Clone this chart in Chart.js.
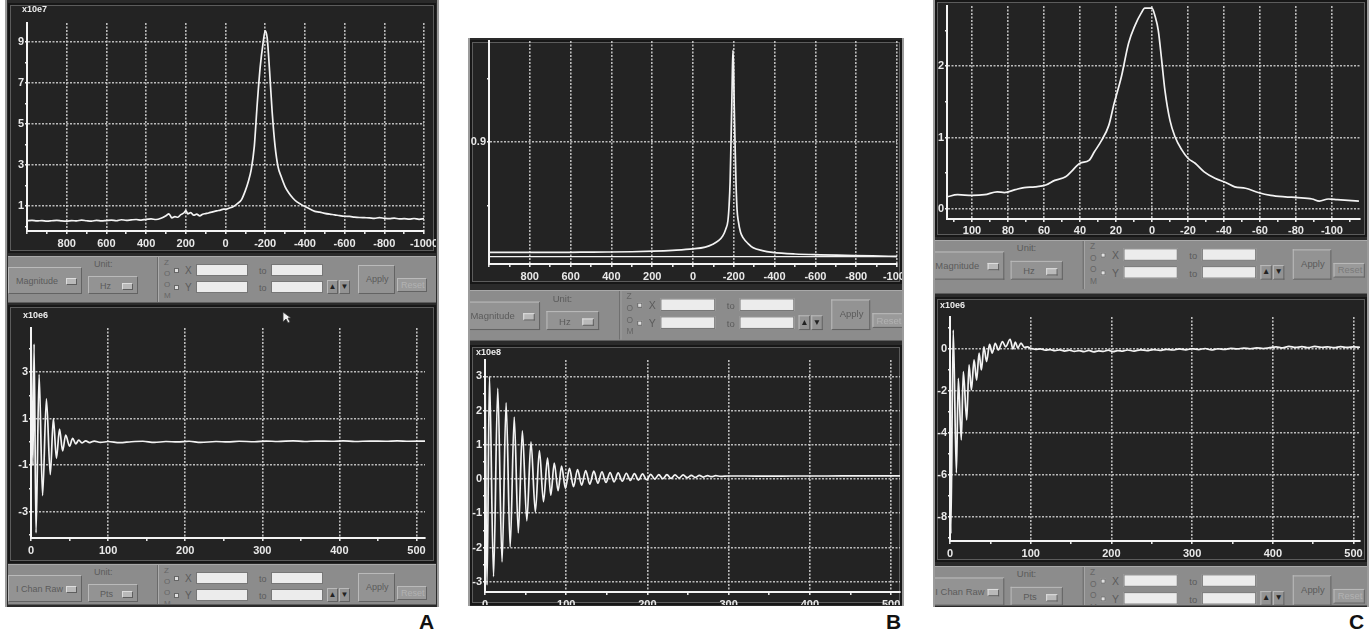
<!DOCTYPE html>
<html>
<head>
<meta charset="utf-8">
<script src="https://cdn.jsdelivr.net/npm/chart.js@4.4.1/dist/chart.umd.min.js"></script>
<style>
  body { margin: 0; width: 1371px; height: 634px; background: #fff; position: relative; overflow: hidden; font-family: 'Liberation Sans', Arial, sans-serif; }
  .panel { position: absolute; background: #2a2a2a; border-left: 2px solid #9c9c9c; border-right: 2px solid #9c9c9c; box-sizing: border-box; }
  .plot { position: absolute; background: #232323; box-shadow: inset 0 0 0 2px #171717, inset 0 0 0 3px #5c5c5c; }
  .plot canvas { position: absolute; left: 0; top: 0; }
  .bar { position: absolute; background: #8c8c8c; overflow: hidden; box-sizing: border-box; border-top: 1px solid #a9a9a9; border-bottom: 1px solid #5d5d5d; }
  .bar .in { position: absolute; top: 0; width: 428px; height: 46px; transform-origin: 0 0; }
  .btn { position: absolute; background: #939393; border: 1px solid; border-color: #bababa #636363 #636363 #bababa; color: #575757; font-size: 9px; box-sizing: border-box; }
  .drop { position: absolute; width: 9px; height: 5px; background: #b9b9b9; border: 1px solid #5e5e5e; border-top-color: #ddd; border-left-color: #ddd; }
  .inp { position: absolute; width: 52px; height: 12px; background: #ececec; border: 1px solid #777; box-sizing: border-box; }
  .txt { position: absolute; color: #5b5b5b; font-size: 9px; line-height: 10px; }
  .rad { position: absolute; width: 3px; height: 3px; background: #e0e0e0; border: 1px solid #666; }
  .unit { position: absolute; color: #ededed; font: bold 9px 'Liberation Sans Narrow', 'Liberation Sans', sans-serif; }
  .tag { position: absolute; font: bold 21px 'Liberation Sans', Arial, sans-serif; color: #111; line-height: 21px; }
</style>
</head>
<body>
<div class="panel" style="left:5px;top:0;width:434px;height:607px"></div>
<div class="panel" style="left:468px;top:38px;width:436px;height:568px"></div>
<div class="panel" style="left:933px;top:0;width:436px;height:607px"></div>

<div class="plot" id="boxAtop" style="left:8px;top:3px;width:428px;height:250px"></div>
<div class="plot" id="boxAfid" style="left:8px;top:305px;width:428px;height:258px"></div>
<div class="plot" id="boxBtop" style="left:470px;top:40px;width:432px;height:244px"></div>
<div class="plot" id="boxBfid" style="left:470px;top:345px;width:432px;height:260px"></div>
<div class="plot" id="boxCtop" style="left:935px;top:0;width:432px;height:237px"></div>
<div class="plot" id="boxCfid" style="left:935px;top:297px;width:432px;height:265px"></div>

<div class="unit" style="left:22px;top:4px">x10e7</div>
<div class="unit" style="left:23px;top:310px">x10e6</div>
<div class="unit" style="left:476px;top:347px">x10e8</div>
<div class="unit" style="left:940px;top:300px">x10e6</div>

<svg style="position:absolute;left:282px;top:311px" width="10" height="13"><polygon points="1,1 1,11 4,8 6,12 8,11 6,7 9,7" fill="#f2f2f2" stroke="#333" stroke-width="0.8"/></svg>

<div class="tag" style="left:419px;top:611px">A</div>
<div class="tag" style="left:886px;top:611px">B</div>
<div class="tag" style="left:1349px;top:611px">C</div>

<script>
// spectra: [frequency in Hz, magnitude]
const specA = [
  [1000, 0.28], [975, 0.3], [950, 0.27], [925, 0.29], [900, 0.26], [875, 0.28], [850, 0.3], [825, 0.27],
  [800, 0.26], [775, 0.29], [750, 0.27], [725, 0.31], [700, 0.28], [675, 0.26], [650, 0.3], [625, 0.27],
  [600, 0.29], [575, 0.31], [550, 0.28], [525, 0.33], [500, 0.3], [475, 0.32], [450, 0.34], [425, 0.31],
  [400, 0.35], [375, 0.37], [350, 0.34], [325, 0.4], [300, 0.52], [285, 0.62], [270, 0.42], [255, 0.48],
  [240, 0.45], [225, 0.58], [210, 0.66], [200, 0.78], [190, 0.62], [175, 0.68], [160, 0.55], [145, 0.6],
  [130, 0.52], [115, 0.6], [100, 0.63], [85, 0.66], [70, 0.7], [55, 0.74], [40, 0.77], [25, 0.8],
  [10, 0.85], [0, 0.84], [-20, 0.9], [-40, 0.98], [-60, 1.12], [-80, 1.3], [-100, 1.75], [-115, 2.2],
  [-130, 2.8], [-145, 3.9], [-160, 6.0], [-175, 7.8], [-190, 9.0], [-200, 9.55], [-210, 9.2], [-222, 7.6],
  [-235, 5.6], [-250, 3.9], [-265, 2.9], [-280, 2.45], [-300, 1.95], [-320, 1.62], [-340, 1.38], [-360, 1.2],
  [-380, 1.08], [-400, 0.97], [-425, 0.85], [-450, 0.74], [-475, 0.7], [-500, 0.64], [-525, 0.6], [-550, 0.57],
  [-575, 0.53], [-600, 0.5], [-625, 0.49], [-650, 0.46], [-675, 0.44], [-700, 0.43], [-725, 0.42], [-750, 0.4],
  [-775, 0.43], [-800, 0.4], [-825, 0.38], [-850, 0.41], [-875, 0.37], [-900, 0.38], [-925, 0.36], [-950, 0.39],
  [-975, 0.35], [-1000, 0.38]
];
const specB = [
  [1000, 0.118], [850, 0.118], [700, 0.117], [550, 0.119], [420, 0.12], [300, 0.122], [195, 0.126], [100, 0.132],
  [0, 0.142], [-60, 0.155], [-97, 0.175], [-125, 0.2], [-146, 0.234], [-160, 0.28], [-171, 0.34], [-177, 0.45],
  [-182, 0.62], [-186, 0.88], [-190, 1.15], [-193, 1.4], [-196, 1.55], [-199, 1.42], [-202, 1.16], [-206, 0.9],
  [-211, 0.6], [-216, 0.42], [-222, 0.34], [-233, 0.26], [-246, 0.22], [-270, 0.18], [-295, 0.15], [-340, 0.13],
  [-390, 0.118], [-500, 0.106], [-620, 0.1], [-750, 0.096], [-880, 0.092], [-1000, 0.089]
];
const specBFloor = [[1000, 0.087], [-1000, 0.087]];
const specC = [
  [114, 0.17], [108, 0.2], [100, 0.19], [93, 0.2], [86, 0.24], [82, 0.23], [76, 0.27], [71, 0.3],
  [65, 0.31], [59, 0.335], [54, 0.4], [48, 0.45], [45, 0.52], [40, 0.64], [35, 0.68], [32, 0.8],
  [28, 0.96], [24, 1.17], [21, 1.48], [17, 1.85], [13, 2.32], [9.4, 2.57], [6, 2.74], [4, 2.81],
  [0, 2.81], [-1.7, 2.7], [-3.5, 2.5], [-5.4, 2.08], [-7.2, 1.66], [-10, 1.24], [-12.8, 1.01], [-16.5, 0.83],
  [-20, 0.71], [-24, 0.64], [-29, 0.52], [-35, 0.43], [-41, 0.37], [-46, 0.31], [-52, 0.29], [-59, 0.23],
  [-66, 0.19], [-74, 0.17], [-81, 0.16], [-89, 0.14], [-93, 0.11], [-98, 0.14], [-103, 0.13], [-109, 0.12],
  [-115, 0.11]
];

// free induction decays: [point, signal]
const fidA = [
  [0, 4.8], [2.5, -1.0], [4, 4.2], [6.5, -3.9], [10.5, 2.9], [15, -2.3], [20, 1.85], [25, -1.4],
  [29, 1.0], [33, -0.7], [37, 0.55], [41, -0.38], [45, 0.3], [50, -0.18], [54, 0.16], [58, -0.08],
  [62, 0.08], [66, -0.04], [71, 0.05], [76, -0.03], [82, 0.04], [90, -0.02], [100, 0.02], [115, -0.03],
  [130, 0.01], [145, 0.03], [160, -0.02], [175, 0.02], [190, 0], [205, 0.03], [220, -0.02], [240, 0.02],
  [255, 0], [270, 0.03], [290, 0.01], [305, 0.04], [320, 0.02], [340, 0.05], [355, 0.02], [370, 0.04],
  [390, 0.03], [405, 0.05], [420, 0.02], [440, 0.04], [460, 0.03], [475, 0.05], [490, 0.03], [511, 0.04]
];
const fidB = [
  [0, 3.25], [2.5, -3.1], [5.5, 3.0], [10.5, -2.85], [15.7, 2.65], [21, -2.42], [26, 2.23], [31, -1.98],
  [36, 1.81], [41, -1.57], [46, 1.41], [51.5, -1.22], [56.6, 1.09], [62, -0.96], [67, 0.83], [72, -0.66],
  [77, 0.61], [81, -0.47], [85.3, 0.47], [90, -0.34], [94.3, 0.38], [99, -0.27], [104, 0.31], [109, -0.22],
  [114, 0.28], [119, -0.18], [124, 0.25], [129, -0.15], [134, 0.23], [139, -0.12], [144, 0.21], [149, -0.1],
  [154, 0.19], [159, -0.08], [164, 0.18], [169, -0.06], [174, 0.17], [179, -0.04], [184, 0.16], [189, -0.03],
  [194, 0.15], [199, -0.02], [204, 0.14], [209, 0], [214, 0.13], [219, 0.01], [224, 0.13], [229, 0.02],
  [234, 0.12], [239, 0.03], [244, 0.12], [249, 0.04], [254, 0.11], [259, 0.05], [264, 0.11], [269, 0.06],
  [274, 0.1], [279, 0.07], [284, 0.1], [290, 0.08], [300, 0.09], [320, 0.09], [350, 0.085], [380, 0.09],
  [420, 0.09], [460, 0.095], [511, 0.095]
];
const fidC = [
  [0, 1.3], [1, -8.8], [4, 0.9], [7.9, -5.9], [10.3, -1.4], [14, -4.33], [16.5, -1.08], [20.7, -3.38],
  [23.6, -0.76], [26.5, -1.95], [29.8, -0.52], [33, -1.48], [36, -0.2], [38.9, -1.0], [42, 0.1], [45.3, -0.6],
  [49, 0.22], [52.3, -0.2], [56, 0.27], [60, -0.05], [65, 0.35], [69, 0.1], [74.5, 0.46], [78, 0],
  [81, 0.33], [84, 0.05], [88, 0.28], [92, 0.08], [96, 0.1], [100, 0.03], [106, -0.02], [112, 0],
  [118, -0.06], [124, -0.03], [130, -0.08], [136, -0.04], [142, -0.1], [148, -0.06], [154, -0.12], [160, -0.08],
  [166, -0.13], [172, -0.07], [178, -0.14], [184, -0.09], [190, -0.12], [196, -0.06], [202, -0.13], [208, -0.08],
  [214, -0.1], [220, -0.05], [228, -0.1], [236, -0.04], [244, -0.08], [252, -0.03], [260, -0.07], [268, -0.02],
  [276, -0.05], [284, 0], [292, -0.04], [300, 0.01], [308, -0.03], [316, 0.02], [324, -0.05], [332, 0.01],
  [340, -0.02], [348, 0.03], [356, 0], [364, 0.04], [372, 0.01], [380, 0.05], [388, 0.02], [396, 0.06],
  [404, 0.1], [412, 0.05], [420, 0.12], [428, 0.07], [436, 0.11], [444, 0.06], [452, 0.12], [460, 0.08],
  [468, 0.1], [476, 0.06], [484, 0.11], [492, 0.07], [500, 0.1], [508, 0.08]
];

// tick labels (grid lines go through the labelled ticks)
const hzTicks = [800, 600, 400, 200, 0, -200, -400, -600, -800, -1000];
const hzTicksC = [100, 80, 60, 40, 20, 0, -20, -40, -60, -80, -100];
const ptsTicks = [0, 100, 200, 300, 400, 500];
const magTicksA = [1, 3, 5, 7, 9];
const magTicksB = [0.9];
const magTicksC = [0, 1, 2];
const fidTicksA = [3, 1, -1, -3];
const fidTicksB = [3, 2, 1, 0, -1, -2, -3];
const fidTicksC = [0, -2, -4, -6, -8];

const tickFont = { family: "'Liberation Sans Narrow', 'Liberation Sans', sans-serif", size: 11, weight: 'bold' };

function near(list, v) {
  return list.some(t => Math.abs(t - v) < 1e-6);
}

function axis(a) {
  return {
    type: 'linear',
    min: a.min,
    max: a.max,
    reverse: !!a.reverse,
    afterFit: (s) => {
      if (s.isHorizontal()) s.height = a.size; else s.width = a.size;
      s.paddingLeft = 0; s.paddingRight = 0; s.paddingTop = 0; s.paddingBottom = 0;
    },
    border: { display: true, color: '#f4f4f4', width: 2, dash: [2, 1.5] },
    grid: {
      color: (c) => (c.tick && near(a.grid || a.labels, c.tick.value)) ? 'rgba(205,205,205,0.9)' : 'rgba(0,0,0,0)',
      lineWidth: 1.6,
      tickColor: '#efefef',
      tickLength: a.tl || 3,
      tickWidth: 1.5
    },
    ticks: {
      stepSize: a.step,
      autoSkip: false,
      maxRotation: 0,
      includeBounds: false,
      padding: a.pad,
      color: '#e9e9e9',
      font: tickFont,
      callback: (v) => near(a.labels, v) ? String(v) : ''
    }
  };
}

function line(pairs, width) {
  return {
    data: pairs.map(p => ({ x: p[0], y: p[1] })),
    showLine: true,
    borderColor: '#f3f3f3',
    borderWidth: width || 1.7,
    pointRadius: 0,
    cubicInterpolationMode: 'monotone',
    fill: false
  };
}

function plot(boxId, datasets, pad, x, y) {
  const box = document.getElementById(boxId);
  const cv = document.createElement('canvas');
  cv.width = box.offsetWidth;
  cv.height = box.offsetHeight;
  box.appendChild(cv);
  return new Chart(cv.getContext('2d'), {
    type: 'scatter',
    data: { datasets },
    options: {
      responsive: false,
      animation: false,
      events: [],
      layout: { padding: { top: pad.top, right: pad.right, left: 0, bottom: 0 } },
      plugins: { legend: { display: false }, tooltip: { enabled: false } },
      scales: { x: axis(x), y: axis(y) }
    }
  });
}

function addBar(left, top, width, height, originX, scale, mode, unit, resetColor) {
  const bar = document.createElement('div');
  bar.className = 'bar';
  bar.style.cssText = `left:${left}px;top:${top}px;width:${width}px;height:${height}px`;
  const inner = document.createElement('div');
  inner.className = 'in';
  inner.style.left = (originX - left) + 'px';
  inner.style.transform = `scale(${scale})`;
  inner.innerHTML = `
    <div class="btn" style="left:0;top:10px;width:74px;height:27px"><span class="txt" style="left:7px;top:8px">${mode}</span><i class="drop" style="left:57px;top:10px"></i></div>
    <span class="txt" style="left:86px;top:2px">Unit:</span>
    <div class="btn" style="left:80px;top:19px;width:50px;height:18px"><span class="txt" style="left:11px;top:4px">${unit}</span><i class="drop" style="left:33px;top:6px"></i></div>
    <div style="position:absolute;left:149px;top:0;width:0;height:46px;border-left:1px solid #6a6a6a;border-right:1px solid #ababab"></div>
    <span class="txt" style="left:156px;top:0;font-size:8px;line-height:11px;color:#666">Z<br>O<br>O<br>M</span>
    <i class="rad" style="left:166px;top:11px"></i><i class="rad" style="left:166px;top:28px"></i>
    <span class="txt" style="left:177px;top:9px;font-size:10px">X</span>
    <span class="txt" style="left:177px;top:26px;font-size:10px">Y</span>
    <div class="inp" style="left:188px;top:7px"></div><div class="inp" style="left:263px;top:7px"></div>
    <div class="inp" style="left:188px;top:24px"></div><div class="inp" style="left:263px;top:24px"></div>
    <span class="txt" style="left:251px;top:9px">to</span><span class="txt" style="left:251px;top:26px">to</span>
    <div class="btn" style="left:319px;top:23px;width:11px;height:14px;font-size:8px;color:#222;text-align:center;line-height:12px">&#9650;</div>
    <div class="btn" style="left:331px;top:23px;width:11px;height:14px;font-size:8px;color:#222;text-align:center;line-height:12px">&#9660;</div>
    <div class="btn" style="left:350px;top:8px;width:37px;height:29px"><span class="txt" style="left:7px;top:8px">Apply</span></div>
    <div class="btn" style="left:389px;top:21px;width:30px;height:14px;background:#9a9a9a"><span class="txt" style="left:3px;top:1px;color:${resetColor}">Reset</span></div>`;
  bar.appendChild(inner);
  document.body.appendChild(bar);
}

document.addEventListener('DOMContentLoaded', () => {
  addBar(8, 256, 428, 47, 8, 1, 'Magnitude', 'Hz', '#b2b2b2');
  addBar(8, 564, 428, 41, 8, 1, 'I Chan Raw', 'Pts', '#b2b2b2');
  addBar(470, 290, 432, 51, 461.8, 1.055, 'Magnitude', 'Hz', '#b2b2b2');
  addBar(935, 240, 432, 54, 927.4, 1.045, 'Magnitude', 'Hz', '#7a7a7a');
  addBar(935, 566, 432, 40, 927.4, 1.045, 'I Chan Raw', 'Pts', '#b2b2b2');

  plot('boxAtop', [line(specA)], { top: 20, right: 12 },
    { min: -1000, max: 1000, reverse: true, step: 100, labels: hzTicks, size: 22, pad: 3 },
    { min: -0.22, max: 9.93, step: 1, labels: magTicksA, size: 19, pad: 1, tl: 2 });
  plot('boxAfid', [line(fidA)], { top: 23, right: 11 },
    { min: 0, max: 511, step: 50, labels: ptsTicks, size: 25, pad: 3 },
    { min: -4.12, max: 4.89, step: 1, labels: fidTicksA, size: 23, pad: 1, tl: 2 });
  plot('boxBtop', [line(specBFloor, 1.2), line(specB)], { top: 1, right: 5 },
    { min: -1000, max: 1000, reverse: true, step: 100, labels: hzTicks, size: 20, pad: 3 },
    { min: 0.035, max: 1.616, step: 0.45, labels: magTicksB, size: 19, pad: 1, tl: 2 });
  plot('boxBfid', [line(fidB)], { top: 15, right: 2 },
    { min: 0, max: 511, step: 50, labels: ptsTicks, size: 13, pad: 3 },
    { min: -3.3, max: 3.48, step: 0.5, labels: fidTicksB, size: 15, pad: 1, tl: 2 });
  plot('boxCtop', [line(specC)], { top: 6, right: 7 },
    { min: -115.6, max: 113.9, reverse: true, step: 10, labels: hzTicksC, size: 18, pad: 2 },
    { min: -0.14, max: 2.84, step: 0.5, labels: magTicksC, size: 12, pad: 1, tl: 2 });
  plot('boxCfid', [line(fidC)], { top: 20, right: 7 },
    { min: 0, max: 508, step: 50, labels: ptsTicks, size: 21, pad: 3 },
    { min: -9.14, max: 1.52, step: 1, labels: fidTicksC, size: 15, pad: 1, tl: 2 });
});
</script>
</body>
</html>
